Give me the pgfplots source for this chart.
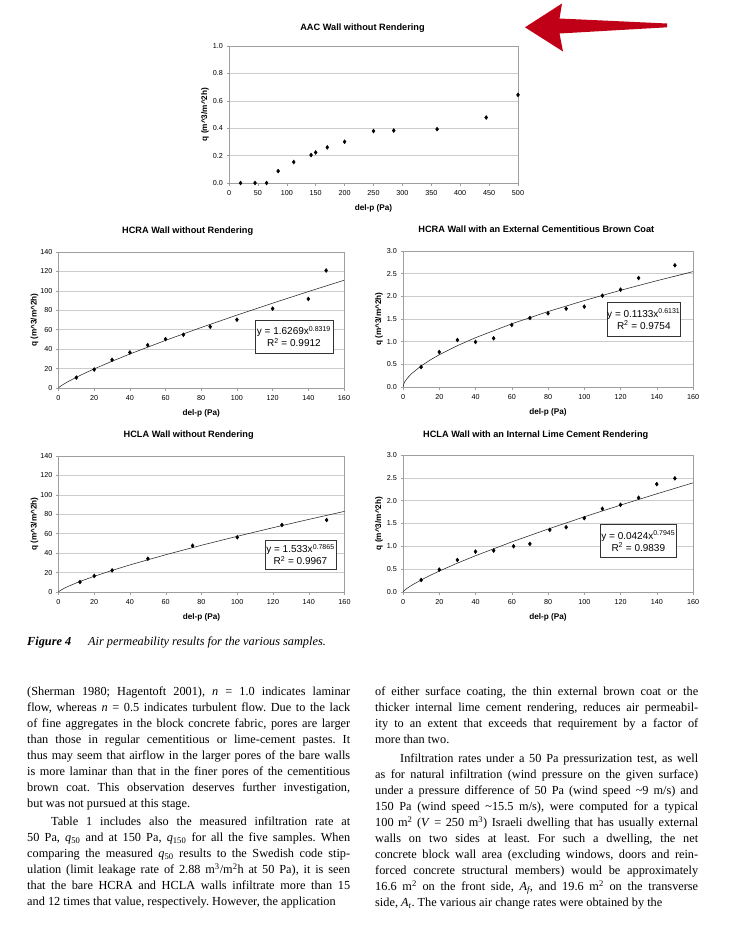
\documentclass[border=0pt]{standalone}
\usepackage{pgfplots}
\pgfplotsset{compat=1.18}
\usepackage{fontspec}
\setmainfont{Liberation Serif}
\newfontfamily\arial{Liberation Sans}
\definecolor{arrowred}{RGB}{192,0,22}

\newcommand\tickf{\arial\fontsize{7.2}{8}\selectfont}
\newcommand\labf{\arial\bfseries\fontsize{8.2}{9}\selectfont}
\newcommand\titf{\arial\bfseries\fontsize{9.2}{11}\selectfont}
\newcommand\boxf{\arial\fontsize{10}{12}\selectfont}
\newcommand\bodyf{\fontsize{12.3}{16}\selectfont\frenchspacing\tolerance=10000\hyphenpenalty=10000\exhyphenpenalty=10000}

\pgfplotsset{
  wall/.style={
    scale only axis, anchor=south west,
    axis line style={gray!75, line width=0.5pt},
    ymajorgrids, grid style={gray!40, line width=0.5pt},
    tick align=outside, major tick length=2.5pt,
    tick style={gray!75, line width=0.5pt},
    xtick pos=bottom, ytick pos=left,
    ticklabel style={font=\tickf},
    xticklabel style={yshift=-1pt},
    /pgf/number format/assume math mode=true,
    xlabel={del-p (Pa)},
    ylabel={q (m\textasciicircum 3/m\textasciicircum 2h)},
    every axis x label/.style={at={(axis description cs:0.5,0)}, anchor=center, yshift=-25pt, font=\labf},
    every axis y label/.style={at={(axis description cs:0,0.5)}, xshift=-24pt, rotate=90, anchor=center, font=\labf},
    xmin=0, ymin=0,
  },
  onedec/.style={yticklabel style={/pgf/number format/.cd, fixed, fixed zerofill, precision=1}},
  pts/.style={only marks, mark=diamond*, mark size=2pt, black},
  fit/.style={no marks, black!85, line width=0.55pt},
}

\begin{document}
\begin{tikzpicture}
\path[use as bounding box, fill=white] (0pt,0pt) rectangle (737pt,-926pt);

% AAC wall
\begin{axis}[wall, onedec, at={(229pt,-183pt)}, width=289pt, height=137pt,
  xmax=500, ymax=1, xtick={0,50,...,500}, ytick={0,0.2,0.4,0.6,0.8,1}]
\addplot[pts] coordinates {
  (20,0) (45,0) (65,0) (85,0.087) (112,0.153) (142,0.204) (150,0.223)
  (170,0.26) (200,0.301) (250,0.379) (285,0.383) (360,0.393) (445,0.478) (500,0.643)};
\end{axis}

% HCRA bare
\begin{axis}[wall, at={(58.5pt,-388pt)}, width=285.5pt, height=136pt,
  xmax=160, ymax=140, xtick={0,20,...,160}, ytick={0,20,...,140}]
\addplot[fit] coordinates {
  (0,0) (0.5,0.914) (1,1.627) (2,2.896) (3,4.058) (5,6.207) (10,11.05) (15,15.48)
  (20,19.66) (30,27.55) (40,35.01) (60,49.05) (80,62.31) (100,75.05) (120,87.32)
  (140,99.26) (160,110.9)};
\addplot[pts] coordinates {
  (10,10.7) (20,19.0) (30,29.0) (40,36.6) (50,44.1) (60,50.3) (70,54.8)
  (85,63.1) (100,70.3) (120,81.7) (140,91.7) (150,121.0)};
\end{axis}

% HCRA brown coat
\begin{axis}[wall, onedec, at={(403pt,-387pt)}, width=290pt, height=136pt,
  xmax=160, ymax=3, xtick={0,20,...,160}, ytick={0,0.5,1,1.5,2,2.5,3}]
\addplot[fit] coordinates {
  (0,0) (0.5,0.0741) (1,0.1133) (2,0.1733) (3,0.2222) (5,0.3039) (10,0.4649)
  (15,0.5961) (20,0.7111) (30,0.9117) (40,1.0876) (60,1.3945) (80,1.6636)
  (100,1.9073) (120,2.1330) (140,2.3445) (160,2.5446)};
\addplot[pts] coordinates {
  (10,0.441) (20,0.772) (30,1.037) (40,0.993) (50,1.074) (60,1.368) (70,1.522)
  (80,1.625) (90,1.728) (100,1.772) (110,2.015) (120,2.147) (130,2.404) (150,2.684)};
\end{axis}

% HCLA bare
\begin{axis}[wall, at={(58.5pt,-592pt)}, width=286pt, height=136pt,
  xmax=160, ymax=140, xtick={0,20,...,160}, ytick={0,20,...,140}]
\addplot[fit] coordinates {
  (0,0) (0.5,0.889) (1,1.533) (2,2.644) (3,3.637) (5,5.436) (10,9.377) (15,12.90)
  (20,16.17) (30,22.25) (40,27.90) (60,38.38) (80,48.12) (100,57.35) (120,66.21)
  (140,74.74) (160,83.01)};
\addplot[pts] coordinates {
  (12,10.3) (20,16.5) (30,22.3) (50,34.3) (75,47.7) (100,56.3) (125,69.0) (150,74.1)};
\end{axis}

% HCLA lime cement
\begin{axis}[wall, onedec, at={(403pt,-592pt)}, width=290pt, height=137pt,
  xmax=160, ymax=3, xtick={0,20,...,160}, ytick={0,0.5,1,1.5,2,2.5,3}]
\addplot[fit] coordinates {
  (0,0) (0.5,0.0244) (1,0.0424) (2,0.0735) (3,0.1015) (5,0.1523) (10,0.2642)
  (15,0.3646) (20,0.4582) (30,0.6325) (40,0.7947) (60,1.0967) (80,1.3784)
  (100,1.6460) (120,1.9025) (140,2.1497) (160,2.3905)};
\addplot[pts] coordinates {
  (10,0.263) (20,0.490) (30,0.702) (40,0.885) (50,0.907) (61,1.002) (70,1.054)
  (81,1.361) (90,1.419) (100,1.617) (110,1.822) (120,1.910) (130,2.063)
  (140,2.363) (150,2.488)};
\end{axis}

\begin{scope}[x=1pt, y=-1pt]
% chart titles
\node[font=\titf] at (362.5,28) {AAC Wall without Rendering};
\node[font=\titf] at (187.7,231.3) {HCRA Wall without Rendering};
\node[font=\titf] at (536.3,229.3) {HCRA Wall with an External Cementitious Brown Coat};
\node[font=\titf] at (188.7,435) {HCLA Wall without Rendering};
\node[font=\titf] at (535.7,435) {HCLA Wall with an Internal Lime Cement Rendering};

% trendline equations
\tikzset{eq/.style={draw=black!80, line width=0.5pt, fill=white, font=\boxf, align=center, inner sep=0pt}}
\node[eq, minimum width=77.7pt, minimum height=32.7pt] at (293.9,336.7)
  {y = 1.6269x\textsuperscript{0.8319}\\R\textsuperscript{2} = 0.9912};
\node[eq, minimum width=69pt, minimum height=33.3pt] at (643.8,319.3)
  {y = 0.1133x\textsuperscript{0.6131}\\R\textsuperscript{2} = 0.9754};
\node[eq, minimum width=71pt, minimum height=29.3pt] at (300.5,554.7)
  {y = 1.533x\textsuperscript{0.7865}\\R\textsuperscript{2} = 0.9967};
\node[eq, minimum width=76.7pt, minimum height=33.4pt] at (638.3,541)
  {y = 0.0424x\textsuperscript{0.7945}\\R\textsuperscript{2} = 0.9839};

% red arrow
\fill[arrowred] (525,27.3) -- (562,3.5) -- (559.5,18.5) -- (667,23.5) -- (667,27.3)
  -- (559.5,33.5) -- (563,51.5) -- cycle;

% caption
\node[anchor=base west, inner sep=0pt, font=\fontsize{12.3}{14}\selectfont\itshape] at (27,645.7)
  {\makebox[61pt][l]{\bfseries Figure 4}Air permeability results for the various samples.};

% left column
\node[anchor=base west, inner sep=0pt, text width=323pt, align=justify, font=\bodyf] at (27,695.7) {%
(Sherman 1980; Hagentoft 2001), \textit{n} = 1.0 indicates laminar\linebreak
flow, whereas \textit{n} = 0.5 indicates turbulent flow. Due to the lack\linebreak
of fine aggregates in the block concrete fabric, pores are larger\linebreak
than those in regular cementitious or lime-cement pastes. It\linebreak
thus may seem that airflow in the larger pores of the bare walls\linebreak
is more laminar than that in the finer pores of the cementitious\linebreak
brown coat. This observation deserves further investigation,\linebreak
but was not pursued at this stage.\par\vspace{2pt}
\hspace*{24pt}Table 1 includes also the measured infiltration rate at\linebreak
50 Pa, \textit{q}\textsubscript{50} and at 150 Pa, \textit{q}\textsubscript{150} for all the five samples. When\linebreak
comparing the measured \textit{q}\textsubscript{50} results to the Swedish code stip-\linebreak
ulation (limit leakage rate of 2.88 m\textsuperscript{3}/m\textsuperscript{2}h at 50 Pa), it is seen\linebreak
that the bare HCRA and HCLA walls infiltrate more than 15\linebreak
and 12 times that value, respectively. However, the application};

% right column
\node[anchor=base west, inner sep=0pt, text width=323pt, align=justify, font=\bodyf] at (375,695.7) {%
of either surface coating, the thin external brown coat or the\linebreak
thicker internal lime cement rendering, reduces air permeabil-\linebreak
ity to an extent that exceeds that requirement by a factor of\linebreak
more than two.\par\vspace{3pt}
\hspace*{25pt}Infiltration rates under a 50 Pa pressurization test, as well\linebreak
as for natural infiltration (wind pressure on the given surface)\linebreak
under a pressure difference of 50 Pa (wind speed \textasciitilde 9 m/s) and\linebreak
150 Pa (wind speed \textasciitilde 15.5 m/s), were computed for a typical\linebreak
100 m\textsuperscript{2} (\textit{V} = 250 m\textsuperscript{3}) Israeli dwelling that has usually external\linebreak
walls on two sides at least. For such a dwelling, the net\linebreak
concrete block wall area (excluding windows, doors and rein-\linebreak
forced concrete structural members) would be approximately\linebreak
16.6 m\textsuperscript{2} on the front side, \textit{A\textsubscript{f}}, and 19.6 m\textsuperscript{2} on the transverse\linebreak
side, \textit{A\textsubscript{t}}. The various air change rates were obtained by the};
\end{scope}
\end{tikzpicture}
\end{document}
